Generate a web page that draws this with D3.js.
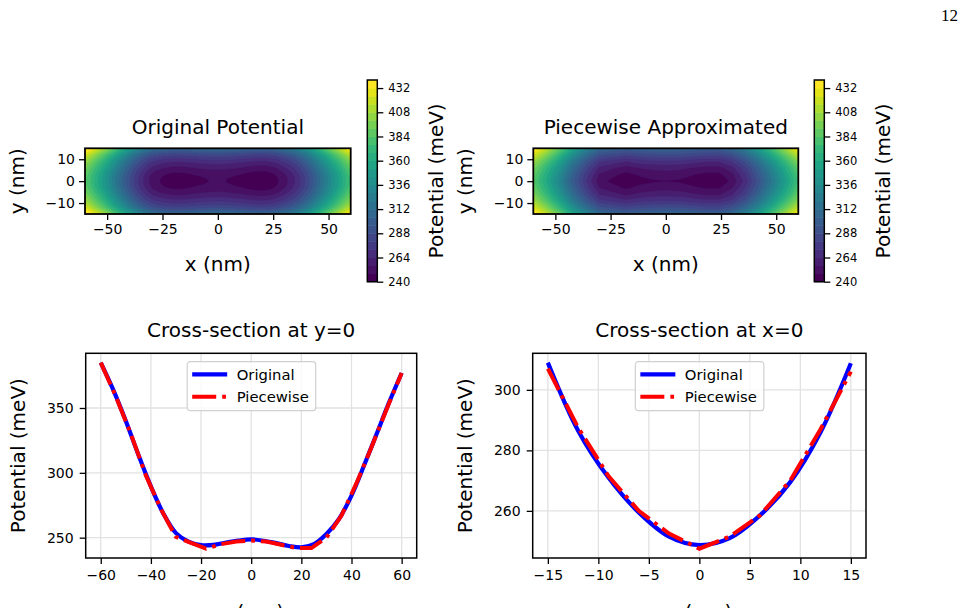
<!DOCTYPE html>
<html><head><meta charset="utf-8">
<script src="https://cdn.jsdelivr.net/npm/d3@7"></script>
<style>
html,body{margin:0;padding:0;background:#fff;overflow:hidden;}
svg{display:block;font-family:"DejaVu Sans",sans-serif;}
</style></head>
<body><svg id="c" width="966" height="608"></svg>
<script>
// ---------------- DATA ----------------
// Cross-section at y=0 (original), x in nm, step 5
const xOrig = d3.range(-60, 60.001, 5);
const vxOrig = [385, 364, 340, 314, 289.5, 268.5, 253.5, 247, 244.3, 244.5, 246.3, 247.8, 248.7,
                247.6, 245.8, 243.6, 242.5, 245, 252.8, 264.4, 282.5, 305.6, 329.9, 354.3, 377];
// Cross-section at y=0 (piecewise), nodes every 6 nm
const xPw = d3.range(-60, 60.001, 6);
const vxPw = [385, 359, 330, 298, 272, 250.5, 246, 241.5, 245, 247, 247.8,
              247, 244.5, 242, 242, 250, 267, 292, 320, 349, 377];
// Cross-section at x=0 (original), y in nm, step 3
const yOrig = d3.range(-15, 15.001, 3);
const vyOrig = [309, 286.5, 271, 259.5, 251.5, 248.7, 251, 258.5, 269.5, 286, 308.8];
// Cross-section at x=0 (piecewise)
const yPw = d3.range(-15, 15.001, 3);
const vyPw = [307, 287.5, 271.5, 260, 252.5, 247.5, 251.5, 258.5, 270, 287, 306];
// Contour levels and colorbar ticks
const levels = d3.range(240, 440.001, 8);
const cbTicks = [240, 264, 288, 312, 336, 360, 384, 408, 432];
const heatXTicks = [-50, -25, 0, 25, 50];
const heatYTicks = [-10, 0, 10];
const csXTicks = [-60, -40, -20, 0, 20, 40, 60];
const csYTicks = [250, 300, 350];
const cs2XTicks = [-15, -10, -5, 0, 5, 10, 15];
const cs2YTicks = [260, 280, 300];

// ---------------- HELPERS ----------------
const svg = d3.select("#c");
const fmt = v => (v < 0 ? "\u2212" + Math.abs(v) : "" + v);
const step = levels[1] - levels[0];
const midLo = levels[0] + step / 2, midHi = levels[levels.length - 1] - step / 2;
const color = t => d3.interpolateViridis((t + step / 2 - midLo) / (midHi - midLo));

function catmull(xs, vs, x) {
  const h = xs[1] - xs[0];
  let i = Math.floor((x - xs[0]) / h);
  i = Math.max(0, Math.min(xs.length - 2, i));
  const t = (x - xs[i]) / h;
  const p0 = vs[Math.max(0, i - 1)], p1 = vs[i], p2 = vs[i + 1], p3 = vs[Math.min(vs.length - 1, i + 2)];
  const t2 = t * t, t3 = t2 * t;
  return 0.5 * ((2 * p1) + (-p0 + p2) * t + (2 * p0 - 5 * p1 + 4 * p2 - p3) * t2 + (-p0 + 3 * p1 - 3 * p2 + p3) * t3);
}

function heatmap(cfg) {
  const {left, right, top, bottom, xs, ys, fx, fy, v0, title, id} = cfg;
  const sx = d3.scaleLinear().domain([-60, 60]).range([left, right]);
  const sy = d3.scaleLinear().domain([-15, 15]).range([bottom, top]);
  const nx = xs.length, ny = ys.length;
  const dx = xs[1] - xs[0], dy = ys[1] - ys[0];
  const vals = new Array(nx * ny);
  for (let j = 0; j < ny; j++) for (let i = 0; i < nx; i++) vals[j * nx + i] = fx(xs[i]) + fy(ys[j]) - v0;
  const g = svg.append("g");
  g.append("clipPath").attr("id", id).append("rect")
    .attr("x", left).attr("y", top).attr("width", right - left).attr("height", bottom - top);
  const proj = d3.geoTransform({point: function(x, y) {
    this.stream.point(sx(xs[0] + (x - 0.5) * dx), sy(ys[0] + (y - 0.5) * dy));
  }});
  const path = d3.geoPath(proj);
  const cs = d3.contours().size([nx, ny]).thresholds(levels.slice(0, -1))(vals);
  g.append("g").attr("clip-path", `url(#${id})`).selectAll("path").data(cs).join("path")
    .attr("d", path).attr("fill", d => color(d.value)).attr("stroke", d => color(d.value)).attr("stroke-width", 0.4);
  g.append("rect").attr("x", left).attr("y", top).attr("width", right - left).attr("height", bottom - top)
    .attr("fill", "none").attr("stroke", "#000").attr("stroke-width", 1.8);
  const ax = g.append("g").attr("transform", `translate(0,${bottom})`)
    .call(d3.axisBottom(sx).tickValues(heatXTicks).tickFormat(fmt).tickSize(6).tickPadding(4));
  const ay = g.append("g").attr("transform", `translate(${left},0)`)
    .call(d3.axisLeft(sy).tickValues(heatYTicks).tickFormat(fmt).tickSize(6).tickPadding(4));
  [ax, ay].forEach(a => { a.select(".domain").remove();
    a.selectAll("line").attr("stroke", "#000").attr("stroke-width", 1.3);
    a.selectAll("text").attr("font-size", 14).attr("fill", "#000").attr("font-family", "DejaVu Sans"); });
  g.append("text").attr("x", (left + right) / 2).attr("y", 134).attr("text-anchor", "middle")
    .attr("font-size", 20).text(title);
  g.append("text").attr("x", (left + right) / 2).attr("y", 271).attr("text-anchor", "middle")
    .attr("font-size", 20).text("x (nm)");
  g.append("text").attr("transform", `translate(${left - 61},${(top + bottom) / 2}) rotate(-90)`)
    .attr("text-anchor", "middle").attr("font-size", 20).text("y (nm)");
}

function colorbar(cx) {
  const top = 80, bottom = 281.7, w = 10;
  const s = d3.scaleLinear().domain([levels[0], levels[levels.length - 1]]).range([bottom, top]);
  const g = svg.append("g");
  g.selectAll("rect.b").data(levels.slice(0, -1)).join("rect").attr("class", "b")
    .attr("x", cx).attr("width", w).attr("y", d => s(d + step)).attr("height", d => s(d) - s(d + step) + 0.5)
    .attr("fill", d => color(d));
  g.append("rect").attr("x", cx).attr("y", top).attr("width", w).attr("height", bottom - top)
    .attr("fill", "none").attr("stroke", "#000").attr("stroke-width", 1.5);
  const a = g.append("g").attr("transform", `translate(${cx + w},0)`)
    .call(d3.axisRight(s).tickValues(cbTicks).tickSize(6).tickPadding(5));
  a.select(".domain").remove();
  a.selectAll("line").attr("stroke", "#000").attr("stroke-width", 1.3);
  a.selectAll("text").attr("font-size", 11.5).attr("fill", "#000").attr("font-family", "DejaVu Sans");
  g.append("text").attr("transform", `translate(${cx + 76},${(top + bottom) / 2}) rotate(-90)`)
    .attr("text-anchor", "middle").attr("font-size", 20).text("Potential (meV)");
}

function crossSection(cfg) {
  const {left, right, top, bottom, xDom, xTicks, yTicks, oX, oV, pX, pV, title, xlabel} = cfg;
  const all = oV.concat(pV);
  const lo = d3.min(all), hi = d3.max(all), pad = (hi - lo) * 0.05;
  const sx = d3.scaleLinear().domain(xDom).range([left, right]);
  const sy = d3.scaleLinear().domain([lo - pad, hi + pad]).range([bottom, top]);
  const g = svg.append("g");
  g.selectAll("line.gx").data(xTicks).join("line").attr("x1", d => sx(d)).attr("x2", d => sx(d))
    .attr("y1", top).attr("y2", bottom).attr("stroke", "#e2e2e2").attr("stroke-width", 1.3);
  g.selectAll("line.gy").data(yTicks).join("line").attr("y1", d => sy(d)).attr("y2", d => sy(d))
    .attr("x1", left).attr("x2", right).attr("stroke", "#e2e2e2").attr("stroke-width", 1.3);
  const lineO = d3.line().x((d, i) => sx(oX[i])).y(d => sy(d)).curve(d3.curveCatmullRom);
  const lineP = d3.line().x((d, i) => sx(pX[i])).y(d => sy(d));
  g.append("path").attr("d", lineO(oV)).attr("fill", "none").attr("stroke", "#0000ff").attr("stroke-width", 4.2);
  g.append("path").attr("d", lineP(pV)).attr("fill", "none").attr("stroke", "#ff0000").attr("stroke-width", 4)
    .attr("stroke-dasharray", "24,6,3.75,6");
  g.append("rect").attr("x", left).attr("y", top).attr("width", right - left).attr("height", bottom - top)
    .attr("fill", "none").attr("stroke", "#000").attr("stroke-width", 1.5);
  const ax = g.append("g").attr("transform", `translate(0,${bottom})`)
    .call(d3.axisBottom(sx).tickValues(xTicks).tickFormat(fmt).tickSize(6).tickPadding(6));
  const ay = g.append("g").attr("transform", `translate(${left},0)`)
    .call(d3.axisLeft(sy).tickValues(yTicks).tickFormat(fmt).tickSize(6).tickPadding(6));
  [ax, ay].forEach(a => { a.select(".domain").remove();
    a.selectAll("line").attr("stroke", "#000").attr("stroke-width", 1.3);
    a.selectAll("text").attr("font-size", 14).attr("fill", "#000").attr("font-family", "DejaVu Sans"); });
  g.append("text").attr("x", (left + right) / 2).attr("y", 337).attr("text-anchor", "middle")
    .attr("font-size", 20).text(title);
  g.append("text").attr("x", (left + right) / 2).attr("y", 619).attr("text-anchor", "middle")
    .attr("font-size", 20).text(xlabel);
  g.append("text").attr("transform", `translate(${left - 61},${(top + bottom) / 2}) rotate(-90)`)
    .attr("text-anchor", "middle").attr("font-size", 20).text("Potential (meV)");
  const lx = (left + right) / 2 - 64, ly = 361.7;
  const lg = g.append("g").attr("transform", `translate(${lx},${ly})`);
  lg.append("rect").attr("width", 128.5).attr("height", 49).attr("rx", 3)
    .attr("fill", "rgba(255,255,255,0.8)").attr("stroke", "#d0d0d0").attr("stroke-width", 1.2);
  lg.append("line").attr("x1", 5).attr("x2", 40).attr("y1", 12.6).attr("y2", 12.6)
    .attr("stroke", "#0000ff").attr("stroke-width", 4.2);
  lg.append("line").attr("x1", 5).attr("x2", 40).attr("y1", 35).attr("y2", 35)
    .attr("stroke", "#ff0000").attr("stroke-width", 4).attr("stroke-dasharray", "24,6,3.75,6");
  lg.append("text").attr("x", 49.5).attr("y", 18).attr("font-size", 14.8).text("Original");
  lg.append("text").attr("x", 49.5).attr("y", 40.5).attr("font-size", 14.8).text("Piecewise");
}

// ---------------- DRAW ----------------
const v0o = vyOrig[5], v0p = vyPw[5];
heatmap({left: 85, right: 350.7, top: 148.3, bottom: 214, id: "c1", title: "Original Potential",
  xs: d3.range(-60, 60.001, 0.5), ys: d3.range(-15, 15.001, 0.5),
  fx: x => catmull(xOrig, vxOrig, x), fy: y => catmull(yOrig, vyOrig, y), v0: v0o});
heatmap({left: 533.3, right: 798.3, top: 148.3, bottom: 214, id: "c2", title: "Piecewise Approximated",
  xs: xPw, ys: yPw,
  fx: x => vxPw[xPw.indexOf(x)], fy: y => vyPw[yPw.indexOf(y)], v0: v0p});
colorbar(367.3);
colorbar(814.3);
crossSection({left: 85.7, right: 416.7, top: 353.3, bottom: 558, xDom: [-66, 66], xTicks: csXTicks, yTicks: csYTicks,
  oX: xOrig, oV: vxOrig, pX: xPw, pV: vxPw, title: "Cross-section at y=0", xlabel: "x (nm)"});
crossSection({left: 532.7, right: 866, top: 353.3, bottom: 558, xDom: [-16.5, 16.5], xTicks: cs2XTicks, yTicks: cs2YTicks,
  oX: yOrig, oV: vyOrig, pX: yPw, pV: vyPw, title: "Cross-section at x=0", xlabel: "y (nm)"});
svg.append("text").attr("x", 958).attr("y", 21).attr("text-anchor", "end")
  .attr("font-family", "Liberation Serif, DejaVu Serif, serif").attr("font-size", 17).text("12");
</script></body></html>
